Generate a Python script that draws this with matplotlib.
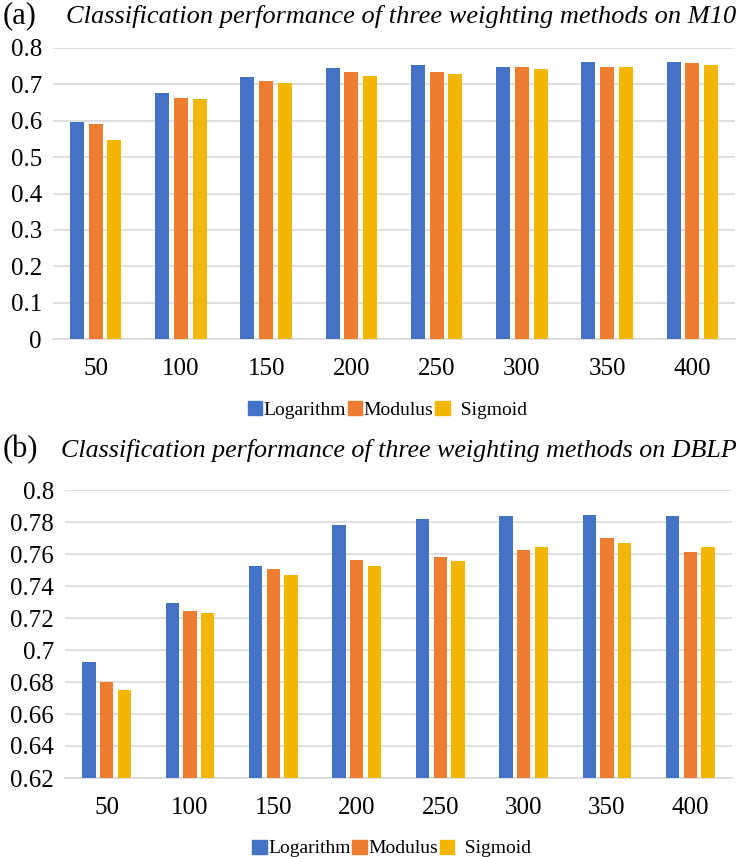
import numpy as np
from matplotlib import pyplot as plt
from matplotlib.patches import Patch

# feature counts on the x axis
sizes = ["50", "100", "150", "200", "250", "300", "350", "400"]
methods = ["Logarithm", "Modulus", "Sigmoid"]
colors = ["#4472C4", "#ED7D31", "#F2B705"]

# accuracy on M10
m10_log = [0.597, 0.677, 0.721, 0.746, 0.752, 0.749, 0.761, 0.761]
m10_mod = [0.592, 0.662, 0.710, 0.734, 0.734, 0.747, 0.749, 0.758]
m10_sig = [0.547, 0.659, 0.704, 0.722, 0.729, 0.743, 0.749, 0.752]

# accuracy on DBLP
dblp_log = [0.6927, 0.7296, 0.7525, 0.7780, 0.7818, 0.7838, 0.7845, 0.7838]
dblp_mod = [0.6800, 0.7244, 0.7504, 0.7563, 0.7580, 0.7628, 0.7700, 0.7612]
dblp_sig = [0.6752, 0.7231, 0.7467, 0.7525, 0.7558, 0.7643, 0.7670, 0.7643]

plt.rcParams["font.family"] = ["Liberation Serif", "DejaVu Serif"]

fig = plt.figure(figsize=(7.44, 8.57), dpi=100)
W, H = 744, 857


def px_axes(left, top, right, bottom):
    return fig.add_axes([left / W, 1 - bottom / H, (right - left) / W, (bottom - top) / H])


def draw_panel(ax, series, ylim, step, fmt, bar_w, pitch):
    x = np.arange(len(sizes))
    for i, (vals, c) in enumerate(zip(series, colors)):
        ax.bar(x + (i - 1) * pitch, vals, width=bar_w, color=c, zorder=3)
    ax.set_xlim(-0.5, len(sizes) - 0.5)
    ax.set_ylim(*ylim)
    ticks = np.arange(ylim[0], ylim[1] + step / 2, step)
    ax.set_yticks(ticks)
    ax.set_yticklabels([fmt(t) for t in ticks])
    ax.set_xticks(x)
    ax.set_xticklabels(sizes)
    ax.grid(axis="y", color="#D9D9D9", linewidth=1.2, zorder=0)
    for s in ["top", "right", "left"]:
        ax.spines[s].set_visible(False)
    ax.spines["bottom"].set_color("#D9D9D9")
    ax.spines["bottom"].set_linewidth(1.2)
    ax.tick_params(length=0, labelsize=18)
    ax.tick_params(axis="x", pad=14)
    ax.tick_params(axis="y", pad=8)
    handles = [Patch(color=c) for c in colors]
    ax.legend(handles, ["Logarithm", "Modulus", "  Sigmoid"], ncol=3,
              loc="upper center", bbox_to_anchor=(0.49, -0.18), frameon=False,
              fontsize=14, handlelength=0.75, handleheight=0.75,
              handletextpad=0.05, columnspacing=0.1, borderpad=0)


def fmt_top(t):
    return "0" if abs(t) < 1e-9 else ("%.1f" % t)


def fmt_bottom(t):
    return ("%.2f" % t).rstrip("0")


ax1 = px_axes(53, 48, 735, 339)
draw_panel(ax1, [m10_log, m10_mod, m10_sig], (0, 0.8), 0.1, fmt_top, 0.165, 0.22)

ax2 = px_axes(65, 490, 732, 778)
draw_panel(ax2, [dblp_log, dblp_mod, dblp_sig], (0.62, 0.8), 0.02, fmt_bottom, 0.16, 0.212)

fig.text(3 / W, 1 - 16 / H, "(a)", fontsize=22, va="center", ha="left")
fig.text(736 / W, 1 - 16 / H, "Classification performance of three weighting methods on M10",
         fontsize=19, style="italic", va="center", ha="right")
fig.text(3 / W, 1 - 450 / H, "(b)", fontsize=22, va="center", ha="left")
fig.text(737 / W, 1 - 450 / H, "Classification performance of three weighting methods on DBLP",
         fontsize=18.7, style="italic", va="center", ha="right")

fig.savefig("out.png", dpi=100)
